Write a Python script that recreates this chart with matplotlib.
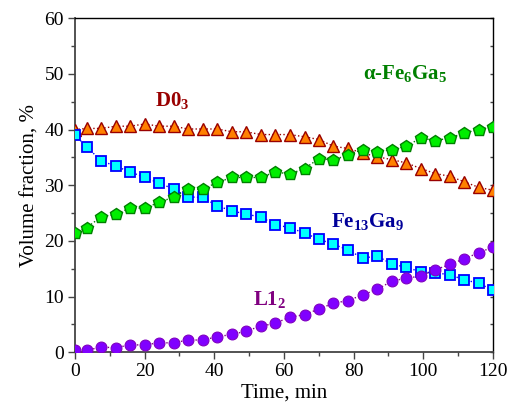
import matplotlib
matplotlib.use("Agg")
import matplotlib.pyplot as plt
from matplotlib.ticker import MultipleLocator

plt.rcParams['font.family'] = ['Liberation Serif', 'DejaVu Serif']
plt.rcParams['mathtext.fontset'] = 'custom'
plt.rcParams['mathtext.rm'] = 'Liberation Serif'
plt.rcParams['mathtext.bf'] = 'Liberation Serif:bold'
plt.rcParams['mathtext.it'] = 'Liberation Serif:italic'

time_min = [0, 3.4, 7.5, 11.8, 15.8, 20.1, 24.1, 28.4, 32.4, 36.8, 40.8, 45.1, 49.1,
            53.4, 57.5, 61.6, 65.9, 70.1, 74.2, 78.4, 82.6, 86.8, 91.0, 95.1, 99.3,
            103.4, 107.7, 111.8, 116.0, 120.0]

d03 = [40.0, 40.2, 40.2, 40.6, 40.6, 41.0, 40.6, 40.6, 40.1, 40.1, 40.1, 39.6, 39.6,
       39.1, 39.1, 39.1, 38.7, 38.2, 37.0, 36.6, 35.8, 35.1, 34.6, 34.0, 33.0,
       32.1, 31.6, 30.6, 29.6, 29.1]

fe13ga9 = [39.0, 36.9, 34.4, 33.4, 32.4, 31.4, 30.4, 29.3, 27.9, 27.8, 26.3, 25.4, 24.8,
           24.3, 22.9, 22.4, 21.4, 20.3, 19.4, 18.4, 16.9, 17.3, 15.8, 15.3, 14.4,
           14.3, 13.9, 13.0, 12.4, 11.1]

fe6ga5 = [21.4, 22.4, 24.3, 24.8, 25.9, 25.9, 26.9, 27.9, 29.3, 29.3, 30.5, 31.4, 31.4,
          31.4, 32.4, 32.0, 33.0, 34.8, 34.5, 35.5, 36.4, 36.0, 36.4, 37.0, 38.5,
          38.0, 38.5, 39.4, 40.0, 40.5]

l12 = [0.4, 0.4, 0.9, 0.85, 1.3, 1.35, 1.7, 1.7, 2.2, 2.2, 2.8, 3.2, 3.8,
       4.7, 5.2, 6.3, 6.75, 7.8, 8.8, 9.3, 10.3, 11.3, 12.8, 13.3, 13.7,
       14.8, 15.8, 16.8, 17.9, 18.9]

fig = plt.figure(figsize=(5.13, 4.13), dpi=100)
ax = fig.add_axes([0.146, 0.147, 0.815, 0.809])

ax.plot(time_min, d03, linestyle=':', color='#990000', lw=1.0, marker='^', ms=8.5,
        mfc='#FF8000', mec='#990000', mew=1.0, zorder=3)
ax.plot(time_min, fe13ga9, linestyle=':', color='#0000FF', lw=1.0, marker='s', ms=7,
        mfc='#00FFFF', mec='#0000FF', mew=1.3, zorder=4)
ax.plot(time_min, fe6ga5, linestyle=':', color='#008000', lw=1.0, marker='p', ms=9,
        mfc='#00EE00', mec='#008000', mew=1.0, zorder=5)
ax.plot(time_min, l12, linestyle=':', color='#800080', lw=1.0, marker='o', ms=7.8,
        mfc='#8000FF', mec='#8000C0', mew=0.8, zorder=6)

ax.text(27.9, 45.3, r'D0$_\mathbf{3}$', color='#990000', fontsize=15, fontweight='bold',
        ha='center', va='center')
ax.text(94.8, 50.1, r'$\mathbf{\alpha}$-Fe$_\mathbf{6}$Ga$_\mathbf{5}$', color='#008000',
        fontsize=15, fontweight='bold', ha='center', va='center')
ax.text(83.9, 23.4, r'Fe$_\mathbf{13}$Ga$_\mathbf{9}$', color='#000099', fontsize=15,
        fontweight='bold', ha='center', va='center')
ax.text(56, 9.4, r'L1$_\mathbf{2}$', color='#800080', fontsize=15, fontweight='bold',
        ha='center', va='center')

ax.set_xlim(0, 120)
ax.set_ylim(0, 60)
ax.xaxis.set_major_locator(MultipleLocator(20))
ax.xaxis.set_minor_locator(MultipleLocator(10))
ax.yaxis.set_major_locator(MultipleLocator(10))
ax.yaxis.set_minor_locator(MultipleLocator(5))

ax.tick_params(axis='both', which='major', direction='out', length=5, width=1,
               labelsize=14, color='#444444', pad=3)
ax.tick_params(axis='both', which='minor', direction='out', length=3, width=1,
               color='#444444')
ax.tick_params(axis='y', which='both', right=True, labelright=False)
for t in ax.yaxis.get_major_ticks() + ax.yaxis.get_minor_ticks():
    t.tick2line.set_marker(matplotlib.lines.TICKLEFT)
    t.tick2line.set_markersize(2)
    t.tick2line.set_color('#888888')

for s in ['left', 'bottom']:
    ax.spines[s].set_color('#444444')
    ax.spines[s].set_linewidth(1.3)
for s in ['top', 'right']:
    ax.spines[s].set_color('black')
    ax.spines[s].set_linewidth(1.0)

ax.set_xlabel('Time, min', fontsize=15, labelpad=2)
ax.set_ylabel('Volume fraction, %', fontsize=15, labelpad=3)

fig.savefig('out.png', dpi=100)
